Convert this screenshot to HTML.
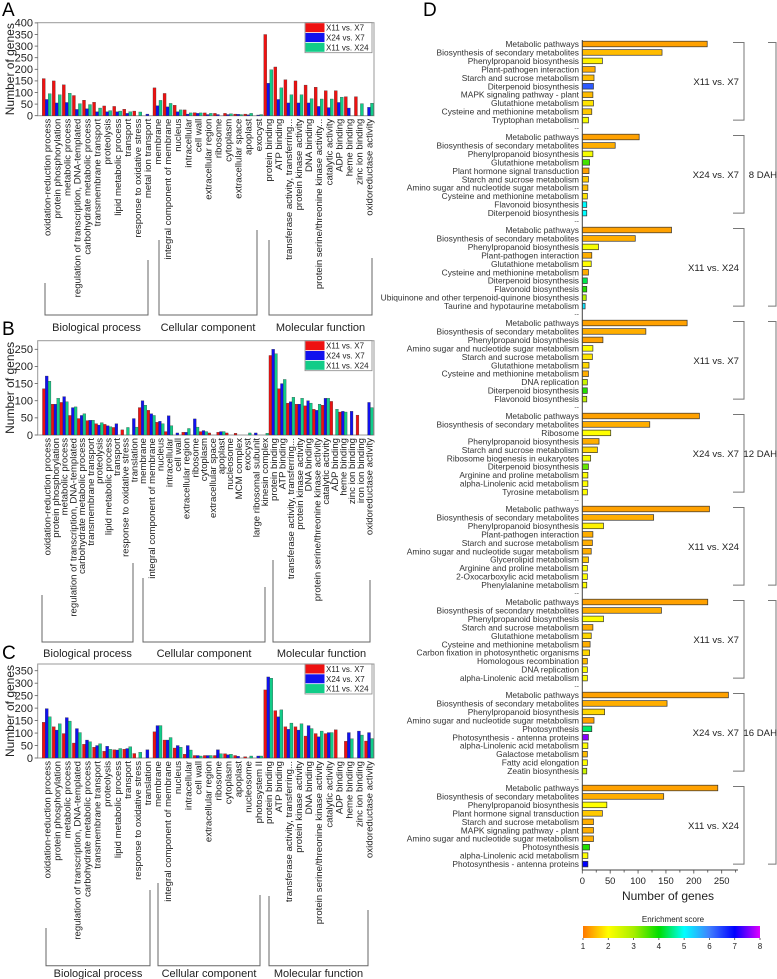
<!DOCTYPE html>
<html><head><meta charset="utf-8"><style>
html,body{margin:0;padding:0;background:#fff;}
svg{display:block;font-family:"Liberation Sans",sans-serif;}
</style></head><body>
<svg id="fig" width="777" height="979" viewBox="0 0 777 979" xmlns="http://www.w3.org/2000/svg">
<defs>
<linearGradient id="cbar" x1="0" x2="1" y1="0" y2="0">
<stop offset="0" stop-color="#ff7800"/><stop offset="0.143" stop-color="#ffff00"/>
<stop offset="0.286" stop-color="#a8ee00"/><stop offset="0.429" stop-color="#00dd00"/>
<stop offset="0.571" stop-color="#00ffff"/><stop offset="0.714" stop-color="#4080ff"/>
<stop offset="0.857" stop-color="#0000ff"/><stop offset="1" stop-color="#e000ff"/>
</linearGradient>
</defs>
</svg>
<script>
// ---------- Panel A data ----------
const catsA=["oxidation-reduction process","protein phosphorylation","metabolic process","regulation of transcription, DNA-templated","carbohydrate metabolic process","transmembrane transport","proteolysis","lipid metabolic process","transport","response to oxidative stress","metal ion transport","membrane","integral component of membrane","nucleus","intracellular","cell wall","extracellular region","ribosome","cytoplasm","extracellular space","apoplast","exocyst","protein binding","ATP binding","transferase activity, transferring...","protein kinase activity","DNA binding","protein serine/threonine kinase activity...","catalytic activity","ADP binding","heme binding","zinc ion binding","oxidoreductase activity"];
const redA=[160,150,133,87,67,58,42,40,28,20,0,120,96,45,25,13,12,10,10,7,7,0,350,210,155,150,132,123,108,108,82,82,0];
const blueA=[70,55,57,27,30,17,17,17,10,0,7,43,38,17,7,10,5,5,5,6,4,3,140,70,55,55,55,40,35,57,33,0,36];
const greenA=[95,90,97,52,48,33,22,20,17,16,0,66,53,25,12,12,10,0,8,5,10,5,198,120,90,90,73,72,72,80,0,52,54];
const ticksA=[0,50,100,150,200,250,300,350,400];
// ---------- Panel B data ----------
const catsB=["oxidation-reduction process","protein phosphorylation","metabolic process","regulation of transcription, DNA-templated","carbohydrate metabolic process","transmembrane transport","proteolysis","lipid metabolic process","transport","response to oxidative stress","translation","membrane","integral component of membrane","nucleus","intracellular","cell wall","extracellular region","ribosome","cytoplasm","extracellular space","apoplast","nucleosome","MCM complex","exocyst","large ribosomal subunit","kinesin complex","protein binding","ATP binding","transferase activity, transferring...","protein kinase activity","DNA binding","protein serine/threonine kinase activity","catalytic activity","ADP binding","heme binding","zinc ion binding","iron ion binding","oxidoreductase activity"];
const redB=[135,90,95,57,48,42,33,31,22,15,0,80,72,37,10,0,8,0,10,6,8,6,5,0,0,0,232,135,93,90,85,75,87,98,67,0,58,0];
const blueB=[172,90,112,80,57,43,29,27,33,0,48,100,62,40,56,6,8,47,13,0,10,0,0,0,6,0,250,150,97,90,100,72,107,0,69,69,0,95];
const greenB=[157,107,97,82,62,43,36,24,0,22,23,87,57,33,27,0,19,23,10,0,10,0,0,6,0,5,237,162,110,107,93,90,107,75,67,0,0,80];
const ticksB=[0,50,100,150,200,250];
// ---------- Panel C data ----------
const catsC=["oxidation-reduction process","protein phosphorylation","metabolic process","regulation of transcription, DNA-templated","carbohydrate metabolic process","transmembrane transport","proteolysis","lipid metabolic process","transport","response to oxidative stress","translation","membrane","integral component of membrane","nucleus","intracellular","cell wall","extracellular region","ribosome","cytoplasm","apoplast","nucleosome","photosystem II","protein binding","ATP binding","transferase activity, transferring...","protein kinase activity","DNA binding","protein serine/threonine kinase activity","catalytic activity","ADP binding","heme binding","zinc ion binding","oxidoreductase activity"];
const redC=[143,125,98,60,55,43,27,33,35,18,0,105,72,40,15,10,10,10,17,10,5,0,273,190,125,125,88,98,98,113,67,0,68];
const blueC=[198,112,162,118,72,50,47,32,38,0,33,130,72,50,50,10,10,33,13,7,0,8,325,165,115,112,130,85,102,0,102,108,102];
const greenC=[165,137,148,102,65,57,35,38,45,23,0,130,82,43,32,8,10,17,15,0,8,8,320,193,140,137,118,108,102,0,77,92,78];
const ticksC=[0,50,100,150,200,250,300,350];
// ---------- Panel D data ----------
const pathNames=[
["Metabolic pathways","Biosynthesis of secondary metabolites","Phenylpropanoid biosynthesis","Plant-pathogen interaction","Starch and sucrose metabolism","Diterpenoid biosynthesis","MAPK signaling pathway - plant","Glutathione metabolism","Cysteine and methionine metabolism","Tryptophan metabolism"],
["Metabolic pathways","Biosynthesis of secondary metabolites","Phenylpropanoid biosynthesis","Glutathione metabolism","Plant hormone signal transduction","Starch and sucrose metabolism","Amino sugar and nucleotide sugar metabolism","Cysteine and methionine metabolism","Flavonoid biosynthesis","Diterpenoid biosynthesis"],
["Metabolic pathways","Biosynthesis of secondary metabolites","Phenylpropanoid biosynthesis","Plant-pathogen interaction","Glutathione metabolism","Cysteine and methionine metabolism","Diterpenoid biosynthesis","Flavonoid biosynthesis","Ubiquinone and other terpenoid-quinone biosynthesis","Taurine and hypotaurine metabolism"],
["Metabolic pathways","Biosynthesis of secondary metabolites","Phenylpropanoid biosynthesis","Amino sugar and nucleotide sugar metabolism","Starch and sucrose metabolism","Glutathione metabolism","Cysteine and methionine metabolism","DNA replication","Diterpenoid biosynthesis","Flavonoid biosynthesis"],
["Metabolic pathways","Biosynthesis of secondary metabolites","Ribosome","Phenylpropanoid biosynthesis","Starch and sucrose metabolism","Ribosome biogenesis in eukaryotes","Diterpenoid biosynthesis","Arginine and proline metabolism","alpha-Linolenic acid metabolism","Tyrosine metabolism"],
["Metabolic pathways","Biosynthesis of secondary metabolites","Phenylpropanoid biosynthesis","Plant-pathogen interaction","Starch and sucrose metabolism","Amino sugar and nucleotide sugar metabolism","Glycerolipid metabolism","Arginine and proline metabolism","2-Oxocarboxylic acid metabolism","Phenylalanine metabolism"],
["Metabolic pathways","Biosynthesis of secondary metabolites","Phenylpropanoid biosynthesis","Starch and sucrose metabolism","Glutathione metabolism","Cysteine and methionine metabolism","Carbon fixation in photosynthetic organisms","Homologous recombination","DNA replication","alpha-Linolenic acid metabolism"],
["Metabolic pathways","Biosynthesis of secondary metabolites","Phenylpropanoid biosynthesis","Amino sugar and nucleotide sugar metabolism","Photosynthesis","Photosynthesis - antenna proteins","alpha-Linolenic acid metabolism","Galactose metabolism","Fatty acid elongation","Zeatin biosynthesis"],
["Metabolic pathways","Biosynthesis of secondary metabolites","Phenylpropanoid biosynthesis","Plant hormone signal transduction","Starch and sucrose metabolism","MAPK signaling pathway - plant","Amino sugar and nucleotide sugar metabolism","Photosynthesis","alpha-Linolenic acid metabolism","Photosynthesis - antenna proteins"]];
const geneCounts=[
[224,143,36,23,21,20,19,20,17,11],
[102,59,19,13,12,11,10,9,8,8],
[160,95,29,17,16,11,9,8,7,5],
[188,114,37,19,18,12,11,9,9,8],
[210,121,51,30,27,15,11,10,10,9],
[228,128,38,19,18,16,11,9,9,8],
[225,142,38,19,16,14,13,9,9,9],
[262,152,40,21,17,11,10,9,9,8],
[243,146,44,36,20,20,20,13,10,10]];
const enrichScores=[
[1.3,1.5,1.9,1.4,1.5,6.3,1.5,1.8,1.6,2.1],
[1.3,1.4,2.1,3.6,1.3,1.6,1.5,1.8,5.0,5.0],
[1.3,1.4,2.1,1.4,2.0,1.4,4.3,3.8,2.8,5.2],
[1.3,1.4,1.3,2.0,1.8,1.7,1.4,2.6,3.8,2.7],
[1.3,1.4,2.0,1.4,1.7,2.1,3.4,2.0,2.0,2.0],
[1.3,1.4,1.9,1.4,1.4,1.4,1.6,2.0,2.0,2.0],
[1.3,1.4,2.0,1.4,1.7,1.4,1.7,1.5,2.0,2.0],
[1.3,1.4,1.7,1.3,4.4,7.6,2.0,1.5,2.0,2.6],
[1.3,1.4,2.0,1.6,1.4,1.4,1.4,3.8,2.0,7.0]];
const groupLabels=["X11 vs. X7","X24 vs. X7","X11 vs. X24","X11 vs. X7","X24 vs. X7","X11 vs. X24","X11 vs. X7","X24 vs. X7","X11 vs. X24"];
const dahLabels=["8 DAH","12 DAH","16 DAH"];
const ticksD=[0,50,100,150,200,250];
const cbarTicks=[1,2,3,4,5,6,7,8];

const NS="http://www.w3.org/2000/svg";
const svg=document.getElementById('fig');
function mk(tag,attrs,parent,text){const e=document.createElementNS(NS,tag);for(const k in attrs)e.setAttribute(k,attrs[k]);if(text!==undefined)e.textContent=text;(parent||svg).appendChild(e);return e;}

const COLORS=["#ee1111","#1111ee","#11cc88"];
const SERIES=["X11 vs. X7","X24 vs. X7","X11 vs. X24"];

function drawPanel(p){
  const g=mk('g',{});
  
  
  const letter=mk('text',{x:2,y:p.letterY,'font-size':19,fill:'#000'},g,p.id.toUpperCase());
  
  
  const yS=v=>p.y0-v*p.k;
  const n=p.cats.length;
  const step=(p.lastX-p.firstX)/(n-1);
  const xS=i=>p.firstX+i*step;
  const bw=Math.min(3,step/3.1);
  const fr=mk('rect',{x:37.7,y:p.top,width:374-37.7,height:p.y0-p.top,fill:'none',stroke:'#999','stroke-width':1},g);
  
  
  p.ticks.forEach(t=>{
    const y=yS(t);
    mk('line',{x1:37.7,x2:34.7,y1:y,y2:y,stroke:'#555','stroke-width':0.8},g);
    const tl=mk('text',{x:33,y:y+3.8,'font-size':11,'text-anchor':'end',fill:'#222'},g,String(t));
    
    
  });
  const yt=mk('text',{transform:`translate(14,${(p.top+p.y0)/2}) rotate(-90)`,'font-size':12,'text-anchor':'middle',fill:'#222'},g,'Number of genes');
  
  
  const series=[p.red,p.blue,p.green];
  series.forEach((arr,s)=>{
    arr.forEach((v,i)=>{
      if(v<=0)return;
      const x=xS(i)-1.5*bw+s*bw;
      const r=mk('rect',{x:x,y:yS(v),width:bw,height:v*p.k,fill:COLORS[s],stroke:'#333','stroke-width':0.3},g);
      
      
    });
  });
  p.cats.forEach((c,i)=>{
    const t=mk('text',{transform:`translate(${xS(i)+3.6},${p.y0+3}) rotate(-90)`,'font-size':9.6,'text-anchor':'end',fill:'#222'},g,c);
    
    
  });
  const lg=mk('g',{},g);
  
  
  mk('rect',{x:305,y:p.top,width:67,height:30,fill:'#fff',stroke:'#888','stroke-width':0.8},lg);
  SERIES.forEach((s,i)=>{
    const e=mk('g',{},lg);
    
    
    mk('rect',{x:305.5,y:p.top+0.5+i*9.8,width:19,height:9,fill:COLORS[i]},e);
    mk('text',{x:326,y:p.top+8+i*9.8,'font-size':8,fill:'#222'},e,s);
  });
  const names=["Biological process","Cellular component","Molecular function"];
  p.br.forEach((b,i)=>{
    const bg=mk('g',{},g);
    
    
    mk('polyline',{points:`${b[0]},${b[1]} ${b[0]},${p.bb} ${b[2]},${p.bb} ${b[2]},${b[3]}`,fill:'none',stroke:'#666','stroke-width':1},bg);
    mk('text',{x:(b[0]+b[2])/2,y:p.bl,'font-size':11,'text-anchor':'middle',fill:'#222'},bg,names[i]);
  });
}
drawPanel({id:'a',letterY:16,cats:catsA,red:redA,blue:blueA,green:greenA,ticks:ticksA,top:22.7,y0:115.7,k:0.232,firstX:46.7,lastX:369,
  bb:315,bl:331,br:[[45,283,148,260],[159,240,257,230],[269,240,372,258]]});
drawPanel({id:'b',letterY:335,cats:catsB,red:redB,blue:blueB,green:greenB,ticks:ticksB,top:340.7,y0:435,k:0.3428,firstX:46.7,lastX:369,
  bb:642,bl:657,br:[[42,595,133,563],[143,578,265,587],[273,560,370,580]]});
drawPanel({id:'c',letterY:659,cats:catsC,red:redC,blue:blueC,green:greenC,ticks:ticksC,top:664,y0:758,k:0.2494,firstX:46.7,lastX:369,
  bb:965.7,bl:977,br:[[46,928,150,890],[158,883,260,895],[269,896,368,910]]});

// ---------- Panel D ----------
const stops=[[1,[255,120,0]],[2,[255,255,0]],[3,[168,238,0]],[4,[0,221,0]],[5,[0,255,255]],[6,[64,128,255]],[7,[0,0,255]],[8,[224,0,255]]];
function cmap(s){for(let i=0;i<stops.length-1;i++){if(s<=stops[i+1][0]){const t=(s-stops[i][0]);const a=stops[i][1],b=stops[i+1][1];return `rgb(${a.map((v,j)=>Math.round(v+(b[j]-v)*t)).join(',')})`;}}return 'rgb(224,0,255)';}
const gD=mk('g',{});


const dl=mk('text',{x:423,y:16,'font-size':19,fill:'#000'},gD,'D');


const X0=582.3,KX=0.5576,ROW0=44,PITCH=93/11;
const xD=v=>X0+v*KX;
const rowY=(g,r)=>ROW0+(g*11+r)*PITCH;
pathNames.forEach((grp,gi)=>{
  grp.forEach((nm,ri)=>{
    const y=rowY(gi,ri);
    const b=mk('rect',{x:X0,y:y-2.8,width:geneCounts[gi][ri]*KX,height:5.6,fill:cmap(enrichScores[gi][ri]),stroke:'#333','stroke-width':0.7},gD);
    
    
    const t=mk('text',{x:579,y:y+3,'font-size':8.4,'text-anchor':'end',fill:'#333'},gD,nm);
    
    
  });
  if(gi<8){mk('text',{x:579,y:rowY(gi,10)+2,'font-size':7,'text-anchor':'end',fill:'#555'},gD,'--');}
  const top=rowY(gi,0)-1.5,bot=rowY(gi,9);
  const br=mk('polyline',{points:`733,${top} 744,${top} 744,${bot} 733,${bot}`,fill:'none',stroke:'#777','stroke-width':1},gD);
  
  
  const gl=mk('text',{x:739,y:(top+bot)/2+3.5,'font-size':9.6,'text-anchor':'end',fill:'#222'},gD,groupLabels[gi]);
  
  
});
dahLabels.forEach((d,i)=>{
  const top=rowY(i*3,0)-1.5,bot=rowY(i*3+2,9);
  const ob=mk('polyline',{points:`768,${top} 776,${top} 776,${bot} 768,${bot}`,fill:'none',stroke:'#777','stroke-width':1},gD);
  
  
  const dt=mk('text',{x:777,y:(top+bot)/2+3.5,'font-size':9.6,'text-anchor':'end',fill:'#222'},gD,d);
  
  
});
mk('line',{x1:X0,x2:X0,y1:40,y2:870,stroke:'#444','stroke-width':1},gD);
mk('line',{x1:X0,x2:738,y1:870,y2:870,stroke:'#444','stroke-width':1},gD);
for(let v=0;v<=275;v+=25){mk('line',{x1:xD(v),x2:xD(v),y1:870,y2:v%50===0?873.5:872.5,stroke:'#444','stroke-width':0.8},gD);}
ticksD.forEach(t=>{
  const tl=mk('text',{x:xD(t),y:884,'font-size':9.4,'text-anchor':'middle',fill:'#222'},gD,String(t));
  
  
});
const xt=mk('text',{x:668,y:900,'font-size':12,'text-anchor':'middle',fill:'#222'},gD,'Number of genes');


const cbt=mk('text',{x:673,y:922,'font-size':8,'text-anchor':'middle',fill:'#222'},gD,'Enrichment score');


const cb=mk('rect',{x:583,y:926,width:177,height:12,fill:'url(#cbar)'},gD);


cbarTicks.forEach(t=>{
  const x=583+(t-1)/7*177;
  mk('line',{x1:x,x2:x,y1:938,y2:940,stroke:'#444','stroke-width':0.8},gD);
  const ct=mk('text',{x:x,y:949,'font-size':8,'text-anchor':'middle',fill:'#222'},gD,String(t));
  
  
});
</script>
</body></html>
